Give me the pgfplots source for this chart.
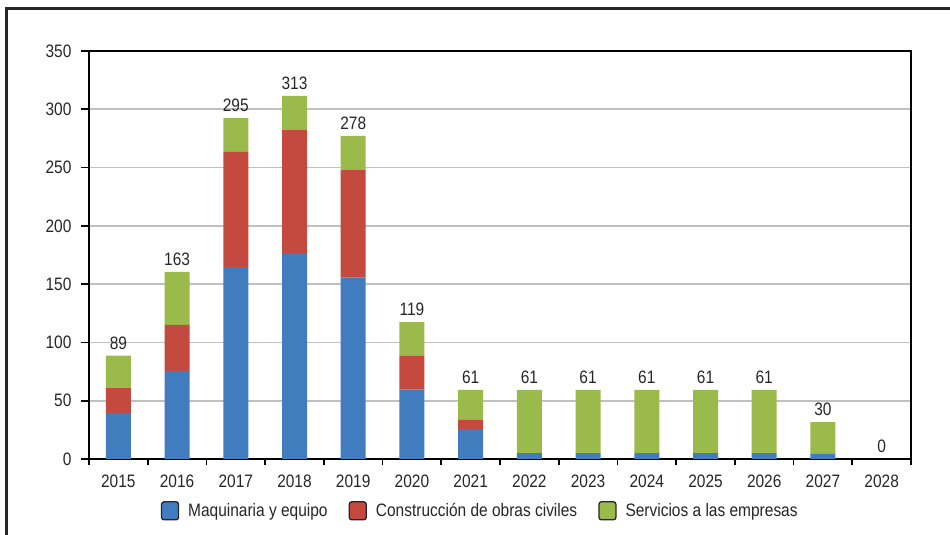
\documentclass[border=0pt]{standalone}
\usepackage{fontspec}
\setmainfont{Liberation Sans}[FakeStretch=0.86]
\usepackage{pgfplots}
\pgfplotsset{compat=1.18}
\usepackage{pgfplotstable}
\definecolor{cblue}{RGB}{65,125,190}
\definecolor{cred}{RGB}{196,73,62}
\definecolor{cgreen}{RGB}{155,186,76}
\definecolor{cgrid}{RGB}{192,192,192}
\pgfplotstableread{
x blue red green top total
0 39.5 21.7 27.5 88.7 89
1 75.5 39.5 45.5 160.5 163
2 164.7 98.7 29.1 292.5 295
3 176.7 105.5 29.2 311.4 313
4 155.5 92.4 29.2 277.1 278
5 59.8 28.6 29.1 117.5 119
6 25.7 7.8 25.7 59.2 61
7 5.1 0 54.1 59.2 61
8 5.1 0 54.1 59.2 61
9 5.1 0 54.1 59.2 61
10 5.1 0 54.1 59.2 61
11 5.1 0 54.1 59.2 61
12 4.3 0 27.4 31.7 30
13 0 0 0 0 0
}\data
\pgfplotsset{sqleg/.style={legend image code/.code={\draw[fill=#1,draw=black!85,line width=1.3pt,rounded corners=2.5pt] (0pt,-9pt) rectangle (17pt,9pt);}}}
\newcommand{\f}{\fontsize{18}{21}\selectfont}
\pgfplotsset{commonax/.style={
  at={(89pt,76pt)}, anchor=south west,
  scale only axis, width=822pt, height=408pt,
  xmin=-0.5, xmax=13.5, ymin=0, ymax=350}}
\begin{document}
\begin{tikzpicture}[x=1pt,y=1pt]
\useasboundingbox (0,0) rectangle (950,535);
\draw[line width=3pt, black!85] (6,-20) -- (6,526) -- (970,526);
\begin{axis}[
  commonax,
  ybar stacked, bar width=25pt,
  xtick={0,...,13},
  xticklabels={2015,2016,2017,2018,2019,2020,2021,2022,2023,2024,2025,2026,2027,2028},
  minor xtick={-0.5,0.5,...,13.5},
  ytick={0,50,...,350},
  xtick pos=left, ytick pos=left,
  tick align=outside,
  major tick length=8pt, minor tick length=6pt,
  every major x tick/.style={draw=none},
  every tick/.style={black, line width=1.6pt},
  axis line style={black, line width=1.8pt},
  ymajorgrids, major grid style={cgrid, line width=1.8pt},
  /pgf/number format/assume math mode=true,
  tick label style={font=\f, text=black!85},
  yticklabel style={xshift=-6pt},
  xticklabel style={yshift=-4pt},
  legend style={at={(0.476,-0.127)}, anchor=center, draw=none, font=\f, text=black!85, legend columns=3,
    /tikz/every odd column/.append style={column sep=7pt},
    /tikz/every even column/.append style={column sep=19pt}},
]
\addplot[fill=cblue, draw=none, sqleg=cblue] table[x=x, y=blue] {\data};
\addplot[fill=cred, draw=none, sqleg=cred] table[x=x, y=red] {\data};
\addplot[fill=cgreen, draw=none, sqleg=cgreen] table[x=x, y=green] {\data};
\legend{Maquinaria y equipo, Construcción de obras civiles, Servicios a las empresas}
\end{axis}
\begin{axis}[commonax, hide axis, clip=false]
\addplot[draw=none, mark=none, nodes near coords, point meta=explicit symbolic,
  nodes near coords style={font=\f, text=black!85, anchor=south, inner sep=0pt, yshift=6pt}]
  table[x=x, y=top, meta=total] {\data};
\end{axis}
\end{tikzpicture}
\end{document}
